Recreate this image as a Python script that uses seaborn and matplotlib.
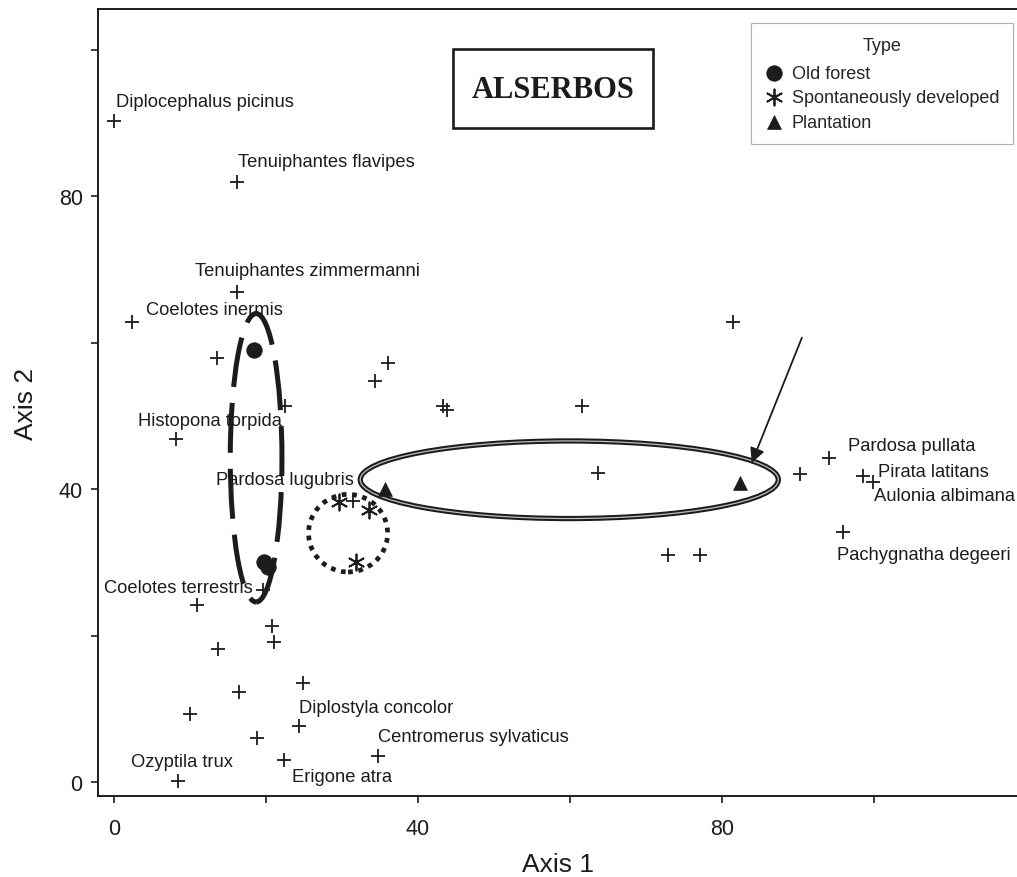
import matplotlib
matplotlib.use("Agg")
import matplotlib.pyplot as plt
from matplotlib.patches import Ellipse, Rectangle
import numpy as np
import pandas as pd
import seaborn as sns

# ---- species scores (ordination axes) ----
species_x = [0.0, 16.2, 16.2, 2.4, 13.5, 22.5, 8.1, 31.4, 19.6, 10.9,
             20.8, 21.1, 13.7, 24.9, 16.4, 10.0, 24.3, 18.8, 22.4, 34.7,
             8.4, 36.1, 34.3, 43.3, 43.8, 61.6, 63.7, 81.4, 90.3, 94.1,
             98.6, 99.9, 95.9, 72.9, 77.1]
species_y = [90.3, 82.0, 66.9, 62.8, 57.9, 51.4, 46.9, 38.4, 26.2, 24.2,
             21.3, 19.1, 18.2, 13.5, 12.3, 9.3, 7.7, 6.0, 3.0, 3.6,
             0.1, 57.2, 54.8, 51.4, 50.8, 51.4, 42.2, 62.8, 42.1, 44.3,
             41.8, 41.0, 34.2, 31.0, 31.0]
species_label = ["Diplocephalus picinus", "Tenuiphantes flavipes",
                 "Tenuiphantes zimmermanni", "Coelotes inermis", "", "",
                 "Histopona torpida", "Pardosa lugubris", "Coelotes terrestris",
                 "", "", "", "", "", "", "", "Diplostyla concolor", "",
                 "Erigone atra", "Centromerus sylvaticus", "Ozyptila trux",
                 "", "", "", "", "", "", "", "",
                 "Pardosa pullata", "Pirata latitans", "Aulonia albimana",
                 "Pachygnatha degeeri", "", ""]

# ---- site scores ----
site_type = ["Old forest", "Old forest", "Old forest",
             "Spontaneously developed", "Spontaneously developed",
             "Spontaneously developed", "Plantation", "Plantation"]
site_x = [18.4, 19.7, 20.2, 29.6, 33.6, 31.8, 35.7, 82.4]
site_y = [59.0, 30.0, 29.4, 38.2, 37.2, 30.0, 40.0, 40.8]
type_order = ["Old forest", "Spontaneously developed", "Plantation"]

# label placement relative to its cross (pixels: dx to text start, dy to text centre)
label_offsets = {
    "Diplocephalus picinus": (2, 20), "Tenuiphantes flavipes": (1, 20),
    "Tenuiphantes zimmermanni": (-42, 22), "Coelotes inermis": (14, 13),
    "Histopona torpida": (-38, 18), "Pardosa lugubris": (-137, 21),
    "Coelotes terrestris": (-159, 3), "Diplostyla concolor": (0, 18),
    "Centromerus sylvaticus": (0, 19), "Erigone atra": (8, -16),
    "Ozyptila trux": (-47, 20), "Pardosa pullata": (19, 12),
    "Pirata latitans": (15, 5), "Aulonia albimana": (1, -14),
    "Pachygnatha degeeri": (-6, -23),
}

species = pd.DataFrame({"Axis 1": species_x, "Axis 2": species_y, "name": species_label})
sites = pd.DataFrame({"Axis 1": site_x, "Axis 2": site_y, "Type": site_type})

sns.set_style("ticks")
plt.rcParams["font.family"] = ["Liberation Sans", "DejaVu Sans"]
ink = "#1c1c1c"

fig = plt.figure(figsize=(10.17, 8.78), dpi=100)
ax = fig.add_axes([98 / 1017, 81 / 878, 919 / 1017, 787 / 878])

sns.scatterplot(data=species, x="Axis 1", y="Axis 2", marker="+", s=115,
                color=ink, linewidth=1.3, ax=ax, legend=False, zorder=3)

type_style = {
    "Old forest": dict(marker="o", s=125, linewidth=0.5),
    "Spontaneously developed": dict(marker=(6, 2, 0), s=135, linewidth=1.3),
    "Plantation": dict(marker="^", s=100, linewidth=0.5),
}
for t in type_order:
    sub = sites[sites["Type"] == t]
    sns.scatterplot(data=sub, x="Axis 1", y="Axis 2", color=ink, edgecolor=ink,
                    label=t, ax=ax, zorder=4, **type_style[t])

for x, y, name in zip(species_x, species_y, species_label):
    if name:
        dx, dy = label_offsets[name]
        ax.annotate(name, (x, y), xytext=(dx, dy), textcoords="offset pixels",
                    ha="left", va="center", fontsize=13.2, color=ink, zorder=5)

# group outlines
ax.add_patch(Ellipse((18.7, 44.3), 6.8, 39.4, fill=False, edgecolor=ink,
                     lw=3.6, linestyle=(0, (10, 3.2)), zorder=2))
ax.add_patch(Ellipse((30.8, 34.0), 10.4, 10.6, fill=False, edgecolor=ink,
                     lw=3.4, linestyle=(0, (1, 1.2)), capstyle="butt", zorder=2))
ax.add_patch(Ellipse((59.9, 41.3), 55.0, 10.6, fill=False, edgecolor=ink,
                     lw=3.8, zorder=2))
ax.add_patch(Ellipse((59.9, 41.3), 55.0, 10.6, fill=False, edgecolor="#bdbdbd",
                     lw=0.9, zorder=2))
ax.annotate("", xy=(83.9, 43.6), xytext=(90.5, 60.7),
            arrowprops=dict(arrowstyle="-|>", color=ink, lw=1.3,
                            mutation_scale=22, shrinkA=0, shrinkB=0), zorder=6)

# site name box
ax.add_patch(Rectangle((44.6, 89.3), 26.3, 10.8, fill=False, edgecolor=ink,
                       lw=1.9, zorder=2))
ax.text(57.75, 94.6, "ALSERBOS", ha="center", va="center", fontsize=22,
        fontweight="bold", family=["Liberation Serif", "DejaVu Serif"], color=ink)

ax.set_xlim(-2.1, 118.8)
ax.set_ylim(-1.9, 105.6)
ax.set_xticks([0, 20, 40, 60, 80, 100])
ax.set_xticklabels(["0", "", "40", "", "80", ""])
ax.set_yticks([0, 20, 40, 60, 80, 100])
ax.set_yticklabels(["0", "", "40", "", "80", ""])
ax.tick_params(axis="both", labelsize=15.5, length=5, width=1.2, color=ink, labelcolor=ink)
ax.tick_params(axis="x", pad=11)
ax.tick_params(axis="y", pad=6)
ax.set_xlabel("Axis 1", fontsize=19, labelpad=9, color=ink)
ax.set_ylabel("Axis 2", fontsize=19, labelpad=15, color=ink)
for side in ["left", "bottom", "top"]:
    ax.spines[side].set_linewidth(1.4)
    ax.spines[side].set_color(ink)
ax.spines["right"].set_visible(False)

handles, labels = ax.get_legend_handles_labels()
leg = ax.legend(handles, labels, title="Type", loc="upper right",
                bbox_to_anchor=(1013 / 1017, 1 - 24 / 878), bbox_transform=fig.transFigure,
                fontsize=13, title_fontsize=13, frameon=True, fancybox=False,
                edgecolor="#b0b0b0", framealpha=1, borderaxespad=0,
                labelspacing=0.42, handletextpad=0.5, handlelength=1.0,
                borderpad=0.75)
leg._legend_box.sep = 8
leg.get_frame().set_linewidth(0.8)

fig.savefig("out.png", dpi=100)
